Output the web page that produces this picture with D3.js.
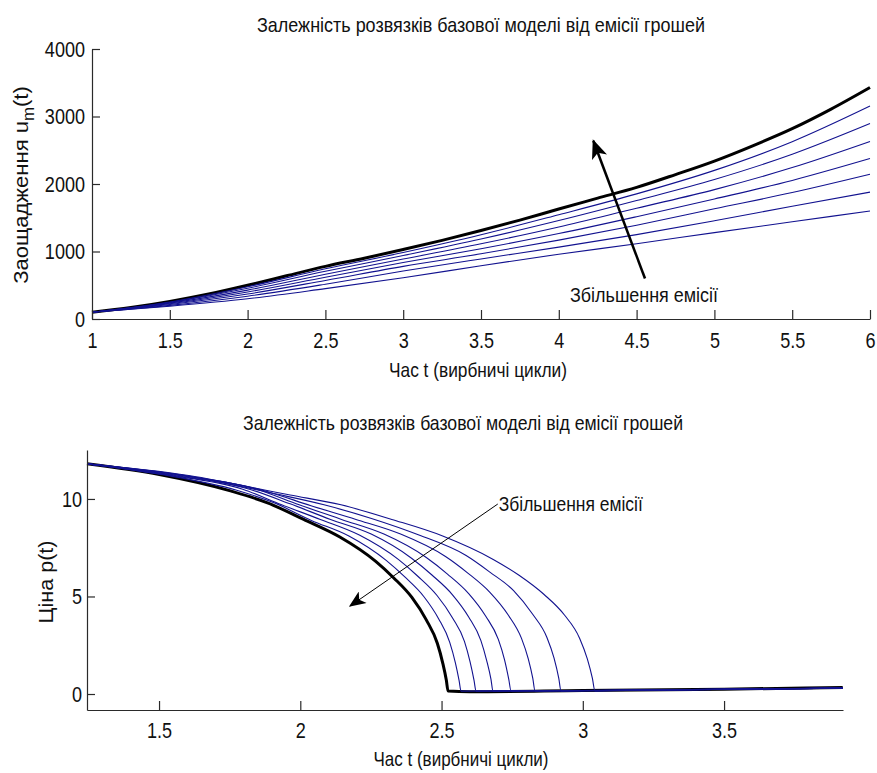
<!DOCTYPE html>
<html>
<head>
<meta charset="utf-8">
<script src="https://cdn.jsdelivr.net/npm/d3@7"></script>
<style>
  body { margin: 0; background: #fff; }
  svg text { font-family: "Liberation Sans", Arial, sans-serif; fill: #111; }
</style>
</head>
<body>
<svg width="877" height="773"></svg>
<script>
var svg = d3.select("svg");

var titleText = "Залежність розвязків базової моделі від емісії грошей";
var xLabelText = "Час t (вирбничі цикли)";
var noteText = "Збільшення емісії";

// top chart: savings u_m(t)
var savingsT = [1, 1.5, 2, 2.5, 3, 3.5, 4, 4.5, 5, 5.5, 6];
var savingsBlackT = [1, 1.25, 1.5, 1.75, 2, 2.25, 2.5, 2.75, 3, 3.25, 3.5, 3.75, 4, 4.25, 4.5, 4.75, 5, 5.25, 5.5, 5.75, 6];
var savingsBlack = [100, 170, 260, 370, 500, 640, 780, 900, 1030, 1165, 1310, 1465, 1630, 1790, 1950, 2140, 2340, 2570, 2820, 3110, 3430];
var savings1 = [100, 252, 478, 744, 985, 1248, 1545, 1854, 2202, 2627, 3155];
var savings2 = [100, 244, 455, 707, 940, 1184, 1458, 1755, 2066, 2440, 2895];
var savings3 = [100, 235, 428, 664, 888, 1114, 1363, 1641, 1917, 2243, 2630];
var savings4 = [100, 225, 400, 619, 836, 1041, 1266, 1516, 1778, 2053, 2377];
var savings5 = [100, 215, 370, 571, 780, 966, 1168, 1390, 1633, 1873, 2144];
var savings6 = [100, 202, 338, 515, 710, 890, 1065, 1250, 1455, 1670, 1880];
var savings7 = [100, 190, 300, 450, 610, 790, 960, 1115, 1280, 1440, 1600];
var savingsXTicks = [1, 1.5, 2, 2.5, 3, 3.5, 4, 4.5, 5, 5.5, 6];
var savingsYTicks = [0, 1000, 2000, 3000, 4000];

// bottom chart: price p(t), [t, p]
var priceBlack = [[1.245, 11.8], [1.501, 11.25], [1.756, 10.4], [1.884, 9.8], [2.012, 8.95], [2.14, 8.05], [2.267, 6.8], [2.331, 5.95], [2.395, 4.95], [2.446, 3.8], [2.485, 2.6], [2.504, 1.6], [2.517, 0.7], [2.523, 0.15], [2.6, 0.12], [3.0, 0.18], [3.5, 0.25], [3.92, 0.33]];
var price1 = [[1.245, 11.8], [1.51, 11.25], [1.775, 10.45], [1.907, 9.8], [2.039, 8.9], [2.172, 8.1], [2.304, 6.85], [2.37, 6.0], [2.437, 5.0], [2.49, 3.85], [2.529, 2.65], [2.549, 1.6], [2.562, 0.7], [2.569, 0.15], [3.2, 0.2], [3.92, 0.3]];
var price2 = [[1.245, 11.8], [1.52, 11.25], [1.796, 10.5], [1.934, 9.7], [2.071, 8.95], [2.209, 8.15], [2.347, 6.9], [2.415, 6.05], [2.484, 5.05], [2.539, 3.9], [2.581, 2.7], [2.601, 1.65], [2.615, 0.7], [2.622, 0.15], [3.2, 0.2], [3.92, 0.3]];
var price3 = [[1.245, 11.8], [1.532, 11.25], [1.82, 10.5], [1.964, 9.75], [2.107, 8.95], [2.251, 8.2], [2.395, 6.95], [2.466, 6.1], [2.538, 5.1], [2.596, 3.95], [2.639, 2.75], [2.66, 1.7], [2.675, 0.75], [2.682, 0.15], [3.2, 0.2], [3.92, 0.3]];
var price4 = [[1.245, 11.8], [1.545, 11.25], [1.845, 10.5], [1.996, 9.7], [2.146, 8.95], [2.296, 8.2], [2.446, 7.0], [2.521, 6.15], [2.596, 5.15], [2.656, 4.0], [2.701, 2.8], [2.723, 1.75], [2.738, 0.75], [2.746, 0.15], [3.2, 0.2], [3.92, 0.3]];
var price5 = [[1.245, 11.8], [1.562, 11.25], [1.879, 10.4], [2.038, 9.65], [2.197, 8.95], [2.355, 8.2], [2.514, 7.05], [2.593, 6.2], [2.672, 5.2], [2.736, 4.05], [2.783, 2.85], [2.807, 1.8], [2.823, 0.8], [2.831, 0.15], [3.2, 0.2], [3.92, 0.3]];
var price6 = [[1.245, 11.8], [1.581, 11.22], [1.916, 10.25], [2.084, 9.7], [2.252, 9.0], [2.42, 8.15], [2.587, 7.1], [2.671, 6.25], [2.755, 5.3], [2.822, 4.1], [2.873, 2.9], [2.898, 1.85], [2.915, 0.8], [2.923, 0.15], [3.2, 0.2], [3.92, 0.3]];
var price7 = [[1.245, 11.8], [1.605, 11.2], [1.964, 10.2], [2.144, 9.7], [2.324, 8.95], [2.504, 8.1], [2.683, 6.9], [2.773, 6.1], [2.863, 5.1], [2.935, 4.05], [2.989, 2.85], [3.016, 1.8], [3.034, 0.8], [3.043, 0.15], [3.3, 0.22], [3.92, 0.3]];
var priceXTicks = [1.5, 2, 2.5, 3, 3.5];
var priceYTicks = [0, 5, 10];

var blue = "#12128f";
var axisColor = "#2a2a2a";
var fontSize = "21px";

// squeeze a text to a target width (the reference font is a narrow one)
function fitWidth(sel, w) {
    sel.each(function () {
        var len = w != null ? w : this.getComputedTextLength() * 0.82;
        d3.select(this).attr("textLength", len).attr("lengthAdjust", "spacingAndGlyphs");
    });
}

svg.append("defs");
function addHead(id, w, h) {
    svg.select("defs").append("marker")
        .attr("id", id)
        .attr("viewBox", "0 -5 12 10")
        .attr("refX", 11)
        .attr("refY", 0)
        .attr("markerUnits", "userSpaceOnUse")
        .attr("markerWidth", w)
        .attr("markerHeight", h)
        .attr("orient", "auto")
        .append("path")
        .attr("d", "M0,-5L12,0L0,5L3,0Z")
        .attr("fill", "#000");
}
addHead("headBig", 20, 16);
addHead("headSmall", 18, 14);

// ---------- top chart ----------
var x1 = d3.scaleLinear().domain([1, 6]).range([92, 870]);
var y1 = d3.scaleLinear().domain([0, 4000]).range([319, 49]);

var topChart = svg.append("g");

var line1 = d3.line()
    .x(function (d) { return x1(d[0]); })
    .y(function (d) { return y1(d[1]); })
    .curve(d3.curveMonotoneX);

var blackPts = savingsBlackT.map(function (t, i) { return [t, savingsBlack[i]]; });
topChart.append("path")
    .attr("d", line1(blackPts))
    .attr("fill", "none")
    .attr("stroke", "#000")
    .attr("stroke-width", 3);

[savings1, savings2, savings3, savings4, savings5, savings6, savings7].forEach(function (s) {
    topChart.append("path")
        .attr("d", line1(savingsT.map(function (t, i) { return [t, s[i]]; })))
        .attr("fill", "none")
        .attr("stroke", blue)
        .attr("stroke-width", 1.1);
});

topChart.append("g")
    .attr("transform", "translate(0," + y1(0) + ")")
    .call(d3.axisBottom(x1).tickValues(savingsXTicks).tickSize(-9).tickSizeOuter(0).tickPadding(13)
        .tickFormat(function (d) { return String(d); }));
topChart.append("g")
    .attr("transform", "translate(" + x1(1) + ",0)")
    .call(d3.axisLeft(y1).tickValues(savingsYTicks).tickSize(-8).tickSizeOuter(0).tickPadding(7)
        .tickFormat(d3.format("d")));

topChart.append("line")
    .attr("x1", x1(4.554)).attr("y1", y1(600))
    .attr("x2", x1(4.222)).attr("y2", y1(2640))
    .attr("stroke", "#000")
    .attr("stroke-width", 2.5)
    .attr("marker-end", "url(#headBig)");

topChart.append("text")
    .attr("x", x1(4.072)).attr("y", y1(250))
    .style("font-size", fontSize)
    .text(noteText)
    .call(fitWidth, 148);

topChart.append("text")
    .attr("x", 481).attr("y", 32)
    .attr("text-anchor", "middle")
    .style("font-size", fontSize)
    .text(titleText)
    .call(fitWidth, 448);

topChart.append("text")
    .attr("x", 478).attr("y", 377)
    .attr("text-anchor", "middle")
    .style("font-size", fontSize)
    .text(xLabelText)
    .call(fitWidth, 178);

var yl1 = topChart.append("text")
    .attr("transform", "translate(28,185) rotate(-90) scale(1.05,1)")
    .attr("text-anchor", "middle")
    .style("font-size", fontSize);
yl1.append("tspan").text("Заощадження u");
yl1.append("tspan").attr("dy", 6).style("font-size", "16px").text("m");
yl1.append("tspan").attr("dy", -6).text("(t)");

// ---------- bottom chart ----------
var x2 = d3.scaleLinear().domain([1.245, 3.921]).range([87, 843]);
var y2 = d3.scaleLinear().domain([-0.82, 12.51]).range([710, 450]);

var bottomChart = svg.append("g");

var line2 = d3.line()
    .x(function (d) { return x2(d[0]); })
    .y(function (d) { return y2(d[1]); })
    .curve(d3.curveMonotoneX);

bottomChart.append("path")
    .attr("d", line2(priceBlack))
    .attr("fill", "none")
    .attr("stroke", "#000")
    .attr("stroke-width", 3);

[price1, price2, price3, price4, price5, price6, price7].forEach(function (s) {
    bottomChart.append("path")
        .attr("d", line2(s))
        .attr("fill", "none")
        .attr("stroke", blue)
        .attr("stroke-width", 1.1);
});

bottomChart.append("g")
    .attr("transform", "translate(0,710)")
    .call(d3.axisBottom(x2).tickValues(priceXTicks).tickSize(-9).tickSizeOuter(0).tickPadding(12)
        .tickFormat(function (d) { return String(d); }));
bottomChart.append("g")
    .attr("transform", "translate(87,0)")
    .call(d3.axisLeft(y2).tickValues(priceYTicks).tickSize(-8).tickSizeOuter(0).tickPadding(5)
        .tickFormat(d3.format("d")));

bottomChart.append("line")
    .attr("x1", x2(2.699)).attr("y1", y2(9.74))
    .attr("x2", x2(2.176)).attr("y2", y2(4.51))
    .attr("stroke", "#000")
    .attr("stroke-width", 1)
    .attr("marker-end", "url(#headSmall)");

bottomChart.append("text")
    .attr("x", x2(2.7025)).attr("y", y2(9.38))
    .style("font-size", fontSize)
    .text(noteText)
    .call(fitWidth, 144);

bottomChart.append("text")
    .attr("x", 463).attr("y", 430)
    .attr("text-anchor", "middle")
    .style("font-size", fontSize)
    .text(titleText)
    .call(fitWidth, 440);

bottomChart.append("text")
    .attr("x", 461).attr("y", 766)
    .attr("text-anchor", "middle")
    .style("font-size", fontSize)
    .text(xLabelText)
    .call(fitWidth, 175);

bottomChart.append("text")
    .attr("transform", "translate(53,582) rotate(-90)")
    .attr("text-anchor", "middle")
    .style("font-size", fontSize)
    .text("Ціна p(t)")
    .call(fitWidth, 83);

// axis styling
svg.selectAll(".domain").attr("stroke", axisColor).attr("stroke-width", 1.2);
svg.selectAll(".tick line").attr("stroke", axisColor).attr("stroke-width", 1.2);
svg.selectAll(".tick text")
    .style("font-size", "22px")
    .style("font-family", "'Liberation Sans', Arial, sans-serif")
    .attr("fill", "#111")
    .call(fitWidth);
</script>
</body>
</html>
